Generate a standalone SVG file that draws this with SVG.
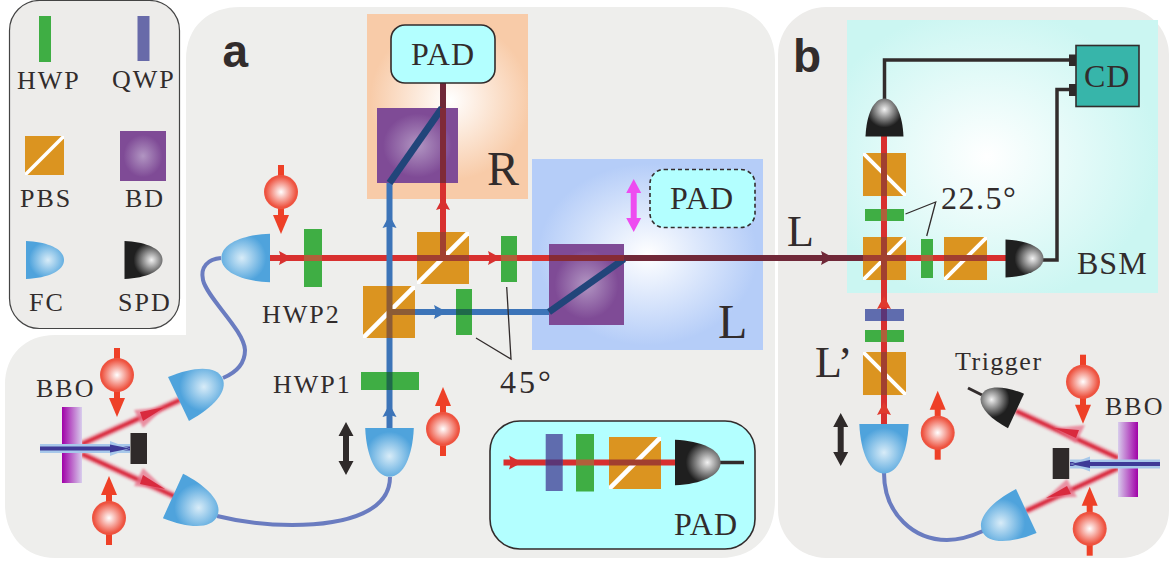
<svg xmlns="http://www.w3.org/2000/svg" width="1172" height="563" viewBox="0 0 1172 563">
<style>
.t{font-family:"Liberation Serif","Times New Roman",serif;font-size:26px;letter-spacing:2px;fill:#322c2c}
.p{font-size:32px;letter-spacing:1px}
.big{font-size:48px;letter-spacing:0}
.l{font-family:"Liberation Sans",Arial,sans-serif;font-weight:bold;font-size:46px;fill:#322c2c}
.g{fill:#3fae44}
.q{fill:#5f6cae}
.bd{fill:url(#gBD)}
.pad{fill:#b3ffff;stroke:#322c2c;stroke-width:1.6}
.red{stroke:#d8302f;stroke-width:6;fill:none}
.blue{stroke:#3c74b8;stroke-width:6;fill:none}
.dark{stroke:#702838;stroke-width:6;fill:none}
.diag{stroke:#21457a;stroke-width:7;fill:none}
.fib{stroke:#6a7cc0;stroke-width:4;fill:none}
.wire{stroke:#322c2c;stroke-width:3.5;fill:none}
.thin{stroke:#322c2c;stroke-width:1.3;fill:none}
.k{fill:#2f2a2a}
.ph{stroke:#d92a3e;stroke-width:4;fill:none;filter:url(#soft)}
.pho{stroke:#e8728a;stroke-width:8;fill:none;opacity:.45;filter:url(#soft)}
.phh{fill:#e8728a;opacity:.75;filter:url(#soft)}
.phc{fill:#d92a3e}
.x{stroke-width:6;fill:none}
</style>
<defs>
<radialGradient id="gBD"><stop offset="0" stop-color="#b195c2"/><stop offset=".85" stop-color="#7f4b96"/></radialGradient>
<radialGradient id="gFC" gradientUnits="userSpaceOnUse" cx="22" cy="0" r="19"><stop offset="0" stop-color="#d8ecf8"/><stop offset="1" stop-color="#4fa3dc"/></radialGradient>
<radialGradient id="gSPD" gradientUnits="userSpaceOnUse" cx="27" cy="0" r="18"><stop offset="0" stop-color="#f2f2f2"/><stop offset="1" stop-color="#1f1f1f"/></radialGradient>
<radialGradient id="gBall"><stop offset="0" stop-color="#fff"/><stop offset=".9" stop-color="#ee5340"/></radialGradient>
<radialGradient id="gR" gradientUnits="userSpaceOnUse" cx="450" cy="100" r="80"><stop offset="0" stop-color="#fff"/><stop offset="1" stop-color="#f8cba8"/></radialGradient>
<radialGradient id="gL" cx=".5" cy=".5" r=".5"><stop offset="0" stop-color="#fff"/><stop offset=".95" stop-color="#b5cdf8"/></radialGradient>
<radialGradient id="gB" cx=".45" cy=".5" r=".55"><stop offset="0" stop-color="#fff"/><stop offset="1" stop-color="#cbf6f2"/></radialGradient>
<linearGradient id="gX1"><stop offset="0" stop-color="#a000a8"/><stop offset="1" stop-color="#d8cdec"/></linearGradient>
<linearGradient id="gX2"><stop offset="0" stop-color="#d8cdec"/><stop offset="1" stop-color="#a000a8"/></linearGradient>
<filter id="soft" x="-30%" y="-30%" width="160%" height="160%"><feGaussianBlur stdDeviation="0.8"/></filter>
<path id="fc" d="M0,-19C22,-18 38,-11 38,0C38,11 22,18 0,19Z" fill="url(#gFC)"/>
<path id="spd" d="M0,-19C22,-18 38,-11 38,0C38,11 22,18 0,19Z" fill="url(#gSPD)"/>
<g id="pbs"><rect width="39" height="39" fill="#db9420"/><polygon points="0,39 0,36.5 36.5,0 39,0 39,2.5 2.5,39" fill="#fff"/></g>
<g id="ball"><rect x="-3" y="-27" width="6" height="12" fill="#ee4027"/><rect x="-3" y="15" width="6" height="10" fill="#ee4027"/><polygon points="-8,23 8,23 0,42" fill="#ee4027"/><circle r="17" fill="url(#gBall)"/></g>
<polygon id="dbl" points="0,0 7.500,14 3,14 3,39 7.500,39 0,53 -7.500,39 -3,39 -3,14 -7.500,14"/>
<polygon id="ah" points="0,0 -13,-7 -11,0 -13,7"/>
<g id="pump"><rect x="0" y="-4.500" width="90" height="9" fill="#a7c8ea"/><rect x="0" y="-2" width="90" height="4" fill="#3e3a97"/><polygon points="90,0 70,-7.500 70,7.500" fill="#a7c8ea"/><polygon points="90,0 70,-4 70,4" fill="#3e3a97"/></g>
</defs>

<rect width="1172" height="563" fill="#fff"/>
<g id="panels">
<path id="panel-a" d="M186,60C186,25 210,7 240,7H720C755,7 775,30 775,60V500C775,535 755,558 720,558H55C25,558 5,535 5,505V385C5,355 25,335 55,335H186Z" fill="#eeeeec"/>
<rect id="panel-b" x="778" y="7" width="391" height="551" rx="48" fill="#edecea"/>
<rect id="region-R" x="367" y="14" width="161" height="185" fill="url(#gR)"/>
<rect id="region-L" x="532" y="159" width="231" height="191" fill="url(#gL)"/>
<rect id="region-BSM" x="847" y="20" width="311" height="273" fill="url(#gB)"/>
</g>

<g id="connectors">
<path class="fib" d="M221,258C208,259 200,267 203,280C207,298 244,330 245,350C245,365 235,373 223,378"/>
<path class="fib" d="M217,516C245,523 270,525 292,525C350,525 390,510 390,477"/>
<path class="fib" d="M884,473C884,515 915,540 947,540C960,540 972,536 983,531"/>
<path class="red" d="M270,258H549"/>
<path class="dark" d="M549,258H864"/>
<path class="red" d="M443,258V183"/>
<path class="dark" d="M443,183V83"/>
<path class="blue" d="M389.500,428V183"/>
<path class="blue" d="M389.500,312H549"/>
<path class="red" d="M884,424V136"/>
<path class="red" d="M884,258H1006"/>
<path class="wire" d="M884.500,100V60H1070"/>
<path class="wire" d="M1043,260H1057V89.500H1070"/>
<path class="wire" style="stroke-width:3" d="M968,388L982,395"/>
<path class="pho" d="M82,444L180,400"/>
<path class="pho" d="M82,454L176,497"/>
<path class="pho" d="M1118,458L1016,411"/>
<path class="pho" d="M1118,468L1026,511"/>
<path class="ph" d="M82,444L180,400"/>
<path class="ph" d="M82,454L176,497"/>
<path class="ph" d="M1118,458L1016,411"/>
<path class="ph" d="M1118,468L1026,511"/>
<polygon class="phh" points="165,407 134,410 143,428"/>
<polygon class="phc" points="165,407 140,412 143,421"/>
<polygon class="phh" points="165,489 134,486 143,468"/>
<polygon class="phc" points="165,489 140,484 143,475"/>
<polygon class="phh" points="1054,428 1085,425 1076,443"/>
<polygon class="phc" points="1054,428 1079,430 1076,438"/>
<polygon class="phh" points="1046,498 1077,497 1067,479"/>
<polygon class="phc" points="1046,498 1071,494 1067,486"/>
<use href="#ah" transform="translate(292,258)" fill="#d8302f"/>
<use href="#ah" transform="translate(501,258)" fill="#d8302f"/>
<use href="#ah" transform="translate(447,312)" fill="#3c74b8"/>
<use href="#ah" transform="translate(389.500,215) rotate(-90)" fill="#3c74b8"/>
<use href="#ah" transform="translate(389.500,404) rotate(-90)" fill="#3c74b8"/>
<use href="#ah" transform="translate(443,197) rotate(-90)" fill="#d8302f"/>
<use href="#ah" transform="translate(834,258)" fill="#702838"/>
<use href="#ah" transform="translate(884,296) rotate(-90)" fill="#e03a2e"/>
<use href="#ah" transform="translate(884,402) rotate(-90)" fill="#e03a2e"/>
</g>

<g id="legend">
<rect x="9.500" y="0.500" width="170" height="328" rx="30" fill="#edecea" stroke="#444" stroke-width="1.200"/>
<rect class="g" x="39" y="16" width="12" height="46"/>
<text class="t" x="17" y="89">HWP</text>
<rect x="137.500" y="16" width="12" height="45" fill="#686aa9"/>
<text class="t" x="112" y="88">QWP</text>
<use href="#pbs" x="25" y="136"/>
<text class="t" x="20" y="206.500">PBS</text>
<rect class="bd" x="120" y="131" width="46" height="50"/>
<text class="t" x="125" y="206.500">BD</text>
<use href="#fc" transform="translate(26,260)"/>
<text class="t" x="29" y="311">FC</text>
<use href="#spd" transform="translate(124.500,260)"/>
<text class="t" x="118" y="311">SPD</text>
</g>

<g id="labels-main">
<text class="l" x="222.500" y="67">a</text>
<text class="l" x="793" y="72">b</text>
</g>

<g id="source-a">
<g id="bbo-a"><rect x="62" y="407" width="20" height="76" fill="url(#gX1)"/><use href="#pump" transform="translate(40,448.500)"/><rect class="k" x="130.500" y="433" width="16.500" height="31"/>
<text class="t" x="36" y="397">BBO</text></g>
<use id="photon-a1" href="#ball" transform="translate(117,375)"/>
<use id="photon-a2" href="#ball" transform="translate(109,518) rotate(180)"/>
<use id="fc-a1" href="#fc" transform="translate(178.500,399) rotate(-25.500) scale(1.280)"/>
<use id="fc-a2" href="#fc" transform="translate(173,496) rotate(24.500) scale(1.280)"/>
<use id="fc-a3" href="#fc" transform="translate(389.500,428) rotate(90) scale(1.280)"/>
<use id="fc-a4" href="#fc" transform="translate(270,258) rotate(180) scale(1.280)"/>
<use id="photon-a3" href="#ball" transform="translate(281,192)"/>
<use id="photon-a4" href="#ball" transform="translate(443,429) rotate(180)"/>
<use id="move-a" class="k" href="#dbl" transform="translate(346,422)"/>
</g>

<g id="hwp2"><rect class="g" x="304" y="229" width="18" height="58"/><text class="t" x="262" y="323">HWP2</text></g>
<g id="hwp1"><rect class="g" x="361" y="372" width="58" height="18"/><text class="t" x="273" y="393">HWP1</text></g>
<g id="pbs-a1"><use href="#pbs" transform="translate(417,232) scale(1.333)"/></g>
<g id="pbs-a2"><use href="#pbs" transform="translate(363,286) scale(1.333)"/></g>
<g id="hwp-45a"><rect class="g" x="501" y="236" width="16" height="46"/></g>
<g id="hwp-45b"><rect class="g" x="456" y="289" width="16" height="46"/></g>
<g id="angle-45"><path class="thin" d="M506.700,287L511,359L476,338"/><text class="t p" x="500" y="393" style="letter-spacing:3px">45°</text></g>

<g id="R-path"><rect class="bd" x="377" y="108" width="81" height="75"/><text class="t big" x="487" y="185">R</text>
<g id="pad-R"><rect class="pad" x="391" y="25" width="104" height="58" rx="14"/><text class="t p" x="411" y="65">PAD</text></g></g>
<g id="L-path"><rect class="bd" x="549" y="244" width="75" height="81"/><text class="t big" x="718" y="338">L</text>
<g id="pad-L"><rect class="pad" x="650" y="169.500" width="105" height="58" rx="14" stroke-dasharray="4 3"/><text class="t p" x="670" y="209">PAD</text></g>
<use id="move-L" href="#dbl" fill="#ee4cf0" transform="translate(633.700,179)"/></g>

<g id="pad-inset">
<rect class="pad" x="490" y="421" width="265" height="128" rx="30"/>
<path class="red" d="M503.500,462.500H675"/>
<path class="wire" d="M720,462.500H744"/>
<use href="#ah" transform="translate(522,462.500)" fill="#d8302f"/>
<rect class="q" x="545.700" y="434" width="17" height="57"/>
<rect class="g" x="576" y="434" width="18" height="57.500"/>
<use href="#pbs" transform="translate(609,437) scale(1.333)"/>
<use href="#spd" transform="translate(675,462.500) scale(1.200)"/>
<text class="t p" x="674" y="535">PAD</text>
</g>

<g id="bsm">
<g id="pbs-b1"><use href="#pbs" transform="translate(906,153) scale(-1.103,1.103)"/></g>
<rect id="hwp-b1" class="g" x="865" y="209" width="39" height="12"/>
<g id="pbs-b2"><use href="#pbs" transform="translate(863,237) scale(1.103)"/></g>
<rect id="hwp-b2" class="g" x="921" y="239" width="12" height="39"/>
<g id="pbs-b3"><use href="#pbs" transform="translate(944,237) scale(1.103)"/></g>
<use id="spd-b1" href="#spd" transform="translate(884.500,136.500) rotate(-90)"/>
<use id="spd-b2" href="#spd" transform="translate(1005.500,258.500)"/>
<g id="cd"><rect x="1076" y="45.500" width="63" height="61" fill="#37b5aa" stroke="#322c2c" stroke-width="1.600"/><rect class="k" x="1069" y="54.500" width="7" height="11.500"/><rect class="k" x="1069" y="84" width="7" height="12"/><text class="t p" x="1084" y="87">CD</text></g>
<path class="thin" d="M905.500,214L935.700,202L926.700,236"/>
<text class="t p" x="941" y="209" style="letter-spacing:1.500px">22.5°</text>
<text class="t p" x="1077" y="274" style="letter-spacing:1px">BSM</text>
<text class="t" x="787" y="245.500" style="font-size:44px;letter-spacing:0">L</text>
</g>

<g id="source-b">
<rect id="qwp-b" class="q" x="865" y="309" width="39" height="12"/>
<rect id="hwp-b3" class="g" x="865" y="330" width="39" height="12"/>
<g id="pbs-b4"><use href="#pbs" transform="translate(906,352) scale(-1.103,1.103)"/></g>
<text class="t" x="815" y="377" style="font-size:44px;letter-spacing:0">L’</text>
<use id="fc-b1" href="#fc" transform="translate(884,424) rotate(90) scale(1.300)"/>
<use id="move-b" class="k" href="#dbl" transform="translate(840.700,413)"/>
<use id="photon-b1" href="#ball" transform="translate(937.700,432.700) rotate(180)"/>
<use id="fc-b2" href="#fc" transform="translate(1026.300,511) rotate(155) scale(1.280)"/>
<use id="spd-trigger" href="#spd" transform="translate(1016,411) rotate(205)"/>
<text class="t" x="955" y="370" style="letter-spacing:1.500px">Trigger</text>
<use id="photon-b2" href="#ball" transform="translate(1083,381.700)"/>
<use id="photon-b3" href="#ball" transform="translate(1089.700,528.700) rotate(180)"/>
<g id="bbo-b"><rect x="1118" y="422" width="20" height="75" fill="url(#gX2)"/><use href="#pump" transform="translate(1160,464) scale(-1,1)"/><rect class="k" x="1052.700" y="448" width="16.500" height="31"/>
<text class="t" x="1105" y="415">BBO</text></g>
</g>

<g id="crossings">
<path class="diag" d="M389.500,183L442,108"/>
<path class="diag" d="M549,312L624,259"/>
<path class="x" d="M304,258H322M501,258H517M576,462.500H594M921,258H933M884,209V221M884,330V342" stroke="#b0603a"/>
<path class="x" d="M417,258H469M443,258V232M609,462.500H661M863,258H906M944,258H987M884,153V196M884,237V280M884,352V395" stroke="#a13f30"/>
<path class="x" d="M884,309V321M545.700,462.500H562.700" stroke="#5d3575"/>
<path class="x" d="M389.500,286V338M389.500,312H415" stroke="#8c5c36"/>
<path class="x" d="M389.500,372V390M456,312H472" stroke="#1f6a4a"/>
<path class="x" d="M549,258H624" stroke="#862b35"/>
<path class="x" d="M443,108V183" stroke="#7f2a38"/>
</g>
</svg>
